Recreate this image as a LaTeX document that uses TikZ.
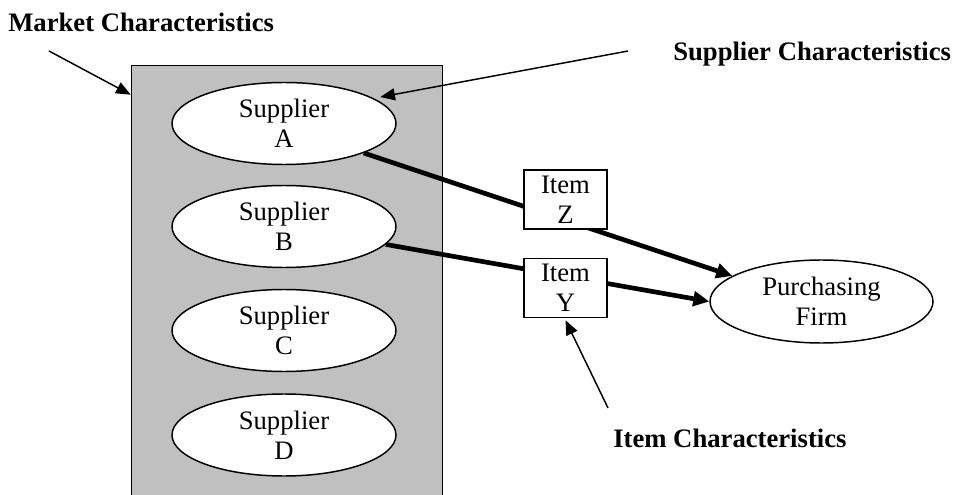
\documentclass[tikz,border=0pt]{standalone}
\usepackage{fontspec}
\setmainfont{Liberation Serif}
\usetikzlibrary{arrows.meta,shapes.geometric,calc}
\definecolor{mktgray}{RGB}{192,192,192}
\begin{document}
\begin{tikzpicture}[x=0.75pt,y=-0.75pt,
  font=\fontsize{20}{22.5}\selectfont,
  sup/.style={ellipse, draw, line width=1.1pt, fill=white, minimum width=168pt, minimum height=61.5pt, inner sep=0pt, align=center},
  itembox/.style={rectangle, draw, line width=1.1pt, fill=white, minimum width=62.25pt, minimum height=44.25pt, inner sep=0pt, align=center},
  lbl/.style={font=\fontsize{20}{22.5}\selectfont\bfseries, inner sep=0pt, anchor=base west},
  thinarrow/.style={line width=1.1pt, -{Triangle[length=11pt,width=9pt]}},
  thickarrow/.style={line width=3.5pt, -{Triangle[length=12pt,width=11pt]}}]
\useasboundingbox (0,0) rectangle (953,495);

% market box
\node[fill=mktgray, minimum width=232.5pt, minimum height=321.75pt, inner sep=0pt] (mkt) at (287,280.5) {};
\draw[line width=1.1pt] (mkt.south west) -- (mkt.north west) -- (mkt.north east) -- (mkt.south east);

% suppliers
\node[sup] (A) at (284,123.5) {Supplier\\A};
\node[sup] (B) at (284,226.5) {Supplier\\B};
\node[sup] (C) at (284,330.5) {Supplier\\C};
\node[sup] (D) at (284,435) {Supplier\\D};

% purchasing firm
\node[sup, minimum width=167.25pt, minimum height=62.25pt] (PF) at (821.5,301.5) {Purchasing\\Firm};

% thick flows
\draw[thickarrow] (A.south east) -- (PF.164);
\draw[thickarrow] (B.-10) -- (PF.west);

% items
\node[itembox] (Z) at (565.5,199.5) {Item\\Z};
\node[itembox] (Y) at (565.5,288) {Item\\Y};

% labels
\node[lbl] (mktlbl) at (8,32) {Market Characteristics};
\node[lbl] (suplbl) at (673,61) {Supplier Characteristics};
\node[lbl] (itemlbl) at (613,447) {Item Characteristics};

% pointer arrows
\coordinate (mkttail) at (49,51);
\coordinate (suptail) at (628,51);
\coordinate (itemtail) at (608,408);
\draw[thinarrow] (mkttail) -- ($(mkt.north west)+(-1,29)$);
\draw[thinarrow] (suptail) -- ($(A.15)+(5,-2)$);
\draw[thinarrow] (itemtail) -- ($(Y.south)+(0,2)$);
\end{tikzpicture}
\end{document}
